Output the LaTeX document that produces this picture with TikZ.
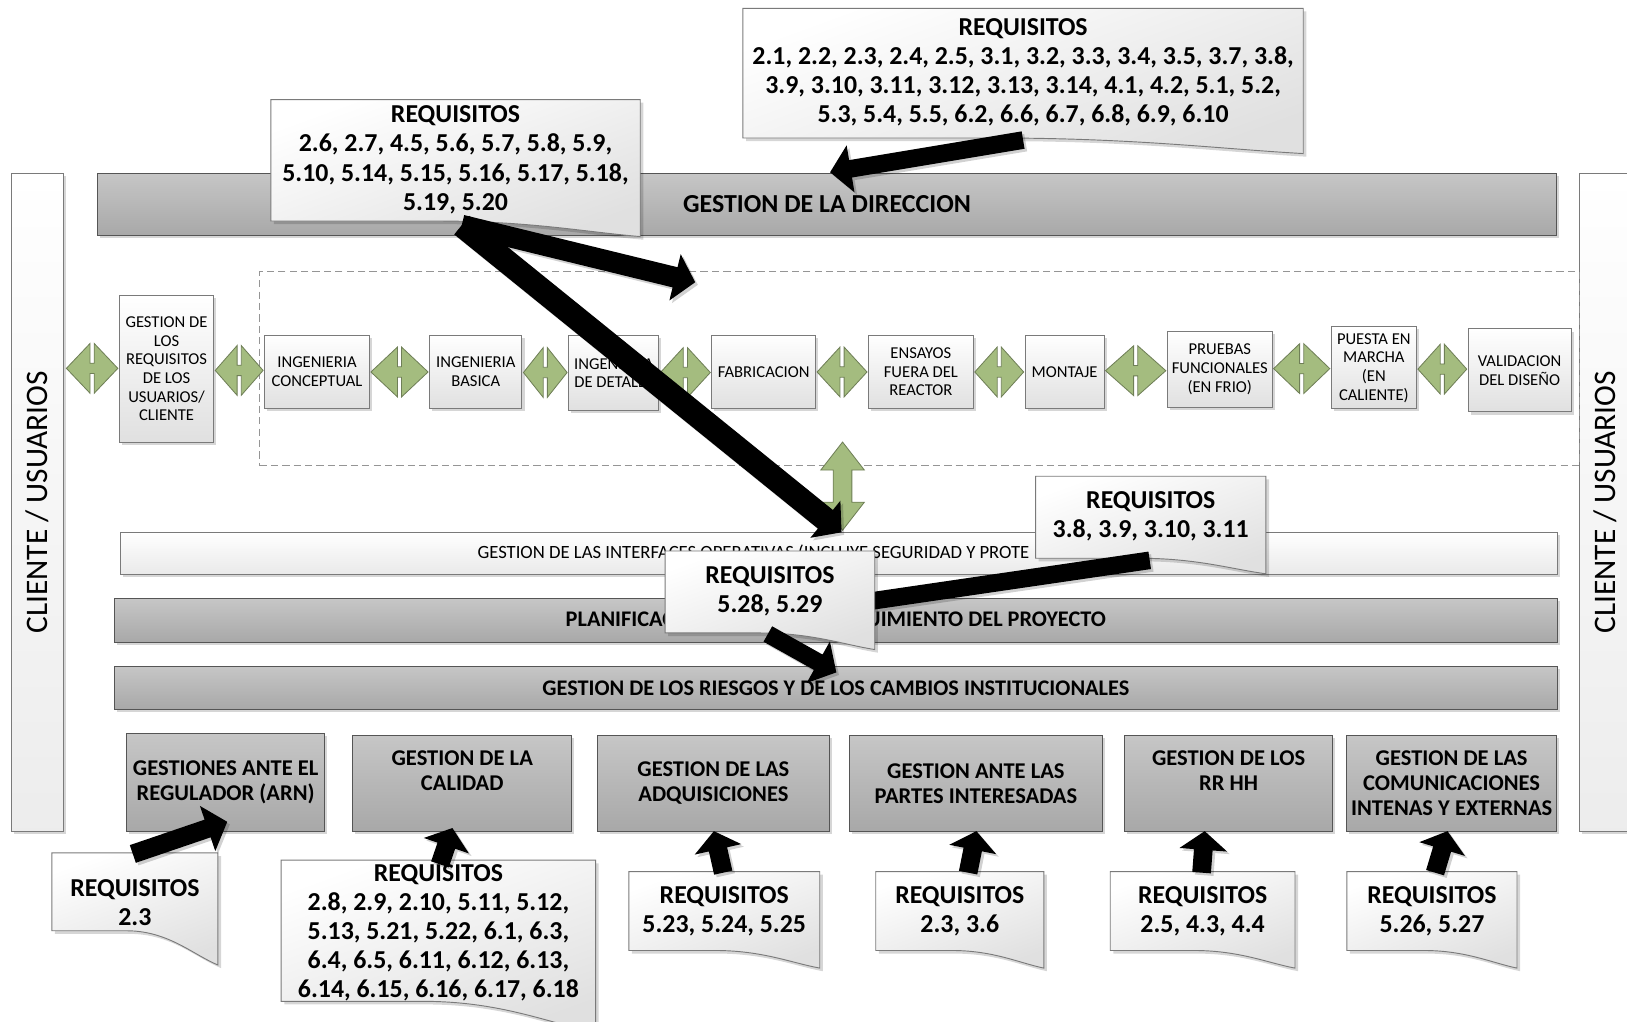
\documentclass[tikz,border=0pt]{standalone}
\usepackage{fontspec}
\setmainfont{Carlito}
\usetikzlibrary{arrows.meta,calc,shadows}

\definecolor{edgegray}{HTML}{7A7A7A}
\definecolor{bartop}{HTML}{C6C6C6}
\definecolor{barbot}{HTML}{A8A8A8}
\definecolor{palegray}{HTML}{E0E0E0}
\definecolor{linkgreen}{HTML}{A4BC7F}
\definecolor{linkedge}{HTML}{6F7F57}

\tikzset{
  softshadow/.style={drop shadow={shadow xshift=2.5pt, shadow yshift=-2.5pt, fill=black, opacity=0.16}},
  sidebar/.style={draw=edgegray, line width=0.9pt, top color=white, bottom color=palegray!60,
    softshadow, font=\fontsize{30.2}{32}\selectfont},
  whitebox/.style={draw=edgegray, line width=0.9pt, top color=white, bottom color=palegray,
    softshadow, inner sep=1pt, align=center, font=\fontsize{16}{18}\selectfont},
  whitebar/.style={draw=edgegray, line width=0.9pt, top color=white, bottom color=palegray!70, softshadow},
  graybar/.style={draw=edgegray!70!black, line width=0.9pt, top color=bartop, bottom color=barbot, softshadow},
  bartext/.style={font=\bfseries\fontsize{21.5}{24}\selectfont, inner sep=0pt},
  graybox/.style={graybar, align=center, inner sep=1pt, font=\bfseries\fontsize{21.7}{24}\selectfont},
  reqtext/.style={font=\bfseries\fontsize{24.9}{28}\selectfont, align=center, inner sep=0pt},
  linkstyle/.style={fill=linkgreen, draw=linkedge, line width=0.8pt, line join=miter},
  frame/.style={draw=edgegray!80, line width=0.9pt, dash pattern=on 7pt off 4pt},
}

% green two-way link between two anchors
\newcommand\greenlink[2]{%
  \filldraw[linkstyle] let \p1=#1, \p2=#2,
      \n1={0.5*(\x1+\x2)}, \n2={0.5*(\y1+\y2)}, \n3={0.5*(\x2-\x1)-1}
    in ({(\n1-\n3)*1pt},{\n2*1pt})
    -- ({(\n1-2)*1pt},{(\n2+24)*1pt}) -- ({(\n1-2)*1pt},{(\n2+5)*1pt})
    -- ({(\n1+2)*1pt},{(\n2+5)*1pt}) -- ({(\n1+2)*1pt},{(\n2+24)*1pt})
    -- ({(\n1+\n3)*1pt},{\n2*1pt})
    -- ({(\n1+2)*1pt},{(\n2-24)*1pt}) -- ({(\n1+2)*1pt},{(\n2-5)*1pt})
    -- ({(\n1-2)*1pt},{(\n2-5)*1pt}) -- ({(\n1-2)*1pt},{(\n2-24)*1pt}) -- cycle;
}

% requirement note: rectangle with a curled lower right corner
% #1 name, #2 left, #3 top, #4 right, #5 bottom left, #6 bottom right, #7 text y, #8 text
\newcommand\notepath[5]{%
  (#1,#2) -- (#3,#2) -- (#3,#5)
  .. controls ({#3-0.15*(#3-#1)},{#5-0.3*(#5-#4)}) and ({#1+0.7*(#3-#1)},#4) ..
  ({#1+0.45*(#3-#1)},#4) -- (#1,#4) -- cycle}
\newcommand\reqnote[8]{%
  \fill[black, opacity=0.16, transform canvas={shift={(3pt,-3pt)}}] \notepath{#2}{#3}{#4}{#5}{#6};
  \shade[draw=edgegray, line width=0.9pt, top color=white, bottom color=palegray, shading angle=20]
    \notepath{#2}{#3}{#4}{#5}{#6};
  \node[reqtext] (#1) at ({(#2+#4)/2},#7) {#8};
}

% thick black block arrow from a tail coordinate to a tip coordinate
% #1 tail, #2 tip, #3 shaft half width, #4 head length, #5 head half width
\newcommand\blockarrow[5]{%
  \path ($(#2)!#4pt!(#1)$) coordinate (ba-base);
  \fill[black, opacity=0.18, transform canvas={shift={(2.5pt,-2.5pt)}}]
    ($(#1)!#3pt!90:(#2)$) -- ($(ba-base)!#3pt!90:(#2)$) -- ($(ba-base)!#5pt!90:(#2)$) -- (#2)
    -- ($(ba-base)!#5pt!-90:(#2)$) -- ($(ba-base)!#3pt!-90:(#2)$) -- ($(#1)!#3pt!-90:(#2)$) -- cycle;
  \fill[black]
    ($(#1)!#3pt!90:(#2)$) -- ($(ba-base)!#3pt!90:(#2)$) -- ($(ba-base)!#5pt!90:(#2)$) -- (#2)
    -- ($(ba-base)!#5pt!-90:(#2)$) -- ($(ba-base)!#3pt!-90:(#2)$) -- ($(#1)!#3pt!-90:(#2)$) -- cycle;
}

\begin{document}
\begin{tikzpicture}[x=1pt,y=-1pt]
\useasboundingbox (0,0) rectangle (1568,984);

% client columns
\node[sidebar, rotate=90, minimum width=634pt, minimum height=50pt] (clientL) at (36,484) {CLIENTE / USUARIOS};
\node[sidebar, rotate=90, minimum width=634pt, minimum height=50pt] (clientR) at (1547,484) {CLIENTE / USUARIOS};

% top management bar
\node[graybar, minimum width=1406pt, minimum height=60pt, font=\bfseries\fontsize{25}{28}\selectfont] (dir) at (797,197) {GESTION DE LA DIRECCION};

% project stages frame
\node[frame, minimum width=1272pt, minimum height=187pt] (stages) at (886,355.5) {};

% stages
\node[whitebox, minimum width=91pt, minimum height=141pt] (req) at (160.5,355.5) {GESTION DE\\LOS\\REQUISITOS\\DE LOS\\USUARIOS/\\CLIENTE};
\node[whitebox, minimum width=101pt, minimum height=71pt] (ic) at (305.5,358.5) {INGENIERIA\\CONCEPTUAL};
\node[whitebox, minimum width=89pt, minimum height=71pt] (ib) at (458.5,358.5) {INGENIERIA\\BASICA};
\node[whitebox, minimum width=87pt, minimum height=73pt] (id) at (591.5,359.5) {INGENIERIA\\DE DETALLE};
\node[whitebox, minimum width=100pt, minimum height=71pt] (fab) at (736,358.5) {FABRICACION};
\node[whitebox, minimum width=101pt, minimum height=71pt] (ens) at (887.5,358.5) {ENSAYOS\\FUERA DEL\\REACTOR};
\node[whitebox, minimum width=76pt, minimum height=71pt] (mon) at (1026,358.5) {MONTAJE};
\node[whitebox, minimum width=101pt, minimum height=74pt] (pru) at (1175.5,356) {PRUEBAS\\FUNCIONALES\\(EN FRIO)};
\node[whitebox, minimum width=82pt, minimum height=79pt] (pue) at (1324,354.5) {PUESTA EN\\MARCHA\\(EN\\CALIENTE)};
\node[whitebox, minimum width=99pt, minimum height=80pt] (val) at (1464.5,357) {VALIDACION\\DEL DISEÑO};

% two-way links between stages
\coordinate (clientLedge) at (63,354.5);
\greenlink{(clientLedge)}{(req.west)}
\greenlink{(req.east)}{(ic.west)}
\greenlink{(ic.east)}{(ib.west)}
\greenlink{(ib.east)}{(id.west)}
\greenlink{(id.east)}{(fab.west)}
\greenlink{(fab.east)}{(ens.west)}
\greenlink{(ens.east)}{(mon.west)}
\greenlink{(mon.east)}{(pru.west)}
\greenlink{(pru.east)}{(pue.west)}
\greenlink{(pue.east)}{(val.west)}

% horizontal management bars
\node[whitebar, minimum width=1385pt, minimum height=41pt] (iface) at (808.5,533.5) {};
\node[font=\fontsize{18}{20}\selectfont, anchor=west, inner sep=0pt] (ifacetext) at (460,533) {GESTION DE LAS INTERFACES OPERATIVAS (INCLUYE SEGURIDAD Y PROTE};
\node[graybar, minimum width=1391pt, minimum height=42pt] (plan) at (805.5,598) {};
\node[bartext, anchor=west] (plantextA) at (545,597) {PLANIFICAC};
\node[bartext, anchor=east] (plantextB) at (1066,597) {UIMIENTO DEL PROYECTO};
\node[graybar, minimum width=1391pt, minimum height=42pt, bartext] (risk) at (805.5,663) {GESTION DE LOS RIESGOS Y DE LOS CAMBIOS INSTITUCIONALES};

% vertical link between stages and interfaces
\coordinate (vtop) at (812,426);
\coordinate (vbot) at (812,511);
\filldraw[linkstyle] (vtop) -- ($(vtop)+(21,27)$) -- ($(vtop)+(9,27)$) -- ($(vbot)+(9,-27)$) -- ($(vbot)+(21,-27)$)
  -- (vbot) -- ($(vbot)+(-21,-27)$) -- ($(vbot)+(-9,-27)$) -- ($(vtop)+(-9,27)$) -- ($(vtop)+(-21,27)$) -- cycle;

% support processes
\node[graybox, minimum width=191pt, minimum height=94pt] (reg) at (217.5,754) {GESTIONES ANTE EL\\REGULADOR (ARN)};
\node[graybox, minimum width=211pt, minimum height=92pt] (cal) at (445.5,755) {GESTION DE LA\\CALIDAD\\\mbox{}};
\node[graybox, minimum width=223pt, minimum height=92pt] (adq) at (687.5,755) {GESTION DE LAS\\ADQUISICIONES};
\node[graybox, minimum width=243pt, minimum height=92pt] (par) at (940.5,755) {GESTION ANTE LAS\\PARTES INTERESADAS};
\node[graybox, minimum width=200pt, minimum height=92pt] (rrh) at (1184,755) {GESTION DE LOS\\RR HH\\\mbox{}};
\node[graybox, minimum width=202pt, minimum height=92pt] (com) at (1399,755) {GESTION DE LAS\\COMUNICACIONES\\INTENAS Y EXTERNAS};

% requirements for management
\reqnote{reqDir}{716}{8}{1256}{133}{148}{70}{REQUISITOS\\2.1, 2.2, 2.3, 2.4, 2.5, 3.1, 3.2, 3.3, 3.4, 3.5, 3.7, 3.8,\\3.9, 3.10, 3.11, 3.12, 3.13, 3.14, 4.1, 4.2, 5.1, 5.2,\\5.3, 5.4, 5.5, 6.2, 6.6, 6.7, 6.8, 6.9, 6.10}
\coordinate (tDir) at (986,135);
\coordinate (hDir) at (800,166);
\blockarrow{tDir}{hDir}{8.5}{20}{23}

% requirements for stages and interfaces
\reqnote{reqStages}{261}{96}{617}{213}{228}{154}{REQUISITOS\\2.6, 2.7, 4.5, 5.6, 5.7, 5.8, 5.9,\\5.10, 5.14, 5.15, 5.16, 5.17, 5.18,\\5.19, 5.20}
\coordinate (tStages) at (445,217);
\coordinate (hStages) at (670,272);
\coordinate (hIface) at (811,513);
\blockarrow{tStages}{hStages}{10}{20}{23}
\blockarrow{tStages}{hIface}{11.5}{20}{23}

% requirements for the operative interfaces
\reqnote{reqIface}{998}{459}{1220}{538}{553}{498}{REQUISITOS\\3.8, 3.9, 3.10, 3.11}
\coordinate (tIface) at (1108,540);
\coordinate (hPlan) at (780,588);
\blockarrow{tIface}{hPlan}{8.5}{20}{23}

% requirements for planning
\reqnote{reqPlan}{641}{531}{843}{610}{626}{570}{REQUISITOS\\5.28, 5.29}
\coordinate (tPlan) at (740,611);
\coordinate (hRisk) at (806,648);
\blockarrow{tPlan}{hRisk}{8.5}{20}{23}

% requirements for support processes
\reqnote{reqReg}{50}{822}{210}{897}{930}{870}{REQUISITOS\\2.3}
\coordinate (tReg) at (128,823);
\coordinate (hReg) at (219,792);
\blockarrow{tReg}{hReg}{9}{20}{23}

\reqnote{reqCal}{271}{829}{574}{965}{995}{899}{REQUISITOS\\2.8, 2.9, 2.10, 5.11, 5.12,\\5.13, 5.21, 5.22, 6.1, 6.3,\\6.4, 6.5, 6.11, 6.12, 6.13,\\6.14, 6.15, 6.16, 6.17, 6.18}
\coordinate (tCal) at (424,833);
\coordinate (hCal) at (436,798);
\blockarrow{tCal}{hCal}{9}{18}{23}

\reqnote{reqAdq}{606}{840}{790}{916}{933}{878}{REQUISITOS\\5.23, 5.24, 5.25}
\coordinate (tAdq) at (697,841);
\coordinate (hAdq) at (688,801);
\blockarrow{tAdq}{hAdq}{9}{18}{23}

\reqnote{reqPar}{844}{840}{1006}{916}{933}{878}{REQUISITOS\\2.3, 3.6}
\coordinate (tPar) at (933,841);
\coordinate (hPar) at (941,801);
\blockarrow{tPar}{hPar}{9}{18}{23}

\reqnote{reqRrh}{1070}{840}{1248}{916}{933}{878}{REQUISITOS\\2.5, 4.3, 4.4}
\coordinate (tRrh) at (1158,841);
\coordinate (hRrh) at (1161,801);
\blockarrow{tRrh}{hRrh}{9}{18}{23}

\reqnote{reqCom}{1298}{840}{1462}{916}{933}{878}{REQUISITOS\\5.26,  5.27}
\coordinate (tCom) at (1383,841);
\coordinate (hCom) at (1395,801);
\blockarrow{tCom}{hCom}{9}{18}{23}

\end{tikzpicture}
\end{document}
